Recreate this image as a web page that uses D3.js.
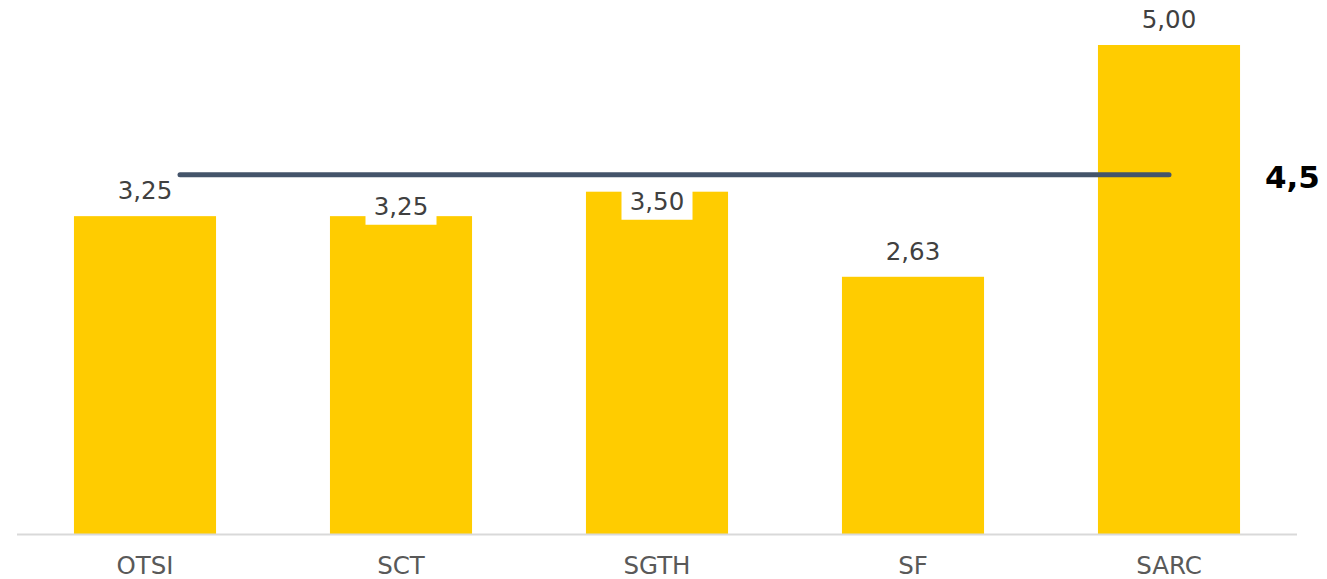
<!DOCTYPE html>
<html>
<head>
    <meta charset="utf-8">
    <script src="https://d3js.org/d3.v7.min.js"></script>
    <style>
        body { margin: 0; background: #fff; }
        text { font-family: "DejaVu Sans", Verdana, sans-serif; }
    </style>
</head>
<body>
    <div id="chart"></div>
    <script>
        // Data
        const categories = ['OTSI', 'SCT', 'SGTH', 'SF', 'SARC'];
        const values = [3.25, 3.25, 3.50, 2.63, 5.00];
        const targetValue = 4.5;
        const targetLabel = '4,5';

        const width = 1327;
        const height = 579;

        const svg = d3.select('#chart').append('svg')
                      .attr('width', width)
                      .attr('height', height);

        // Scales
        const xScale = d3.scaleBand()
                         .domain(categories)
                         .range([17, 1297])
                         .paddingInner(0.445)
                         .paddingOuter(0.2225);

        const yScale = d3.scaleLinear()
                         .domain([0, 5])
                         .range([534, 45]);

        // secondary axis for the target line
        const y2Scale = d3.scaleLinear()
                          .domain([0, 6])
                          .range([534, 55]);

        const fmt = (v) => d3.format('.2f')(v).replace('.', ',');

        // Bars
        svg.selectAll('rect.bar')
           .data(categories)
           .join('rect')
           .attr('class', 'bar')
           .attr('x', (d) => xScale(d))
           .attr('y', (d, i) => yScale(values[i]))
           .attr('width', xScale.bandwidth())
           .attr('height', (d, i) => yScale(0) - yScale(values[i]))
           .style('fill', '#ffcc00');

        // Axis baseline
        svg.append('line')
           .attr('x1', 17)
           .attr('x2', 1297)
           .attr('y1', yScale(0) + 0.5)
           .attr('y2', yScale(0) + 0.5)
           .attr('stroke', '#d9d9d9')
           .attr('stroke-width', 2);

        // Category labels
        const xAxis = d3.axisBottom(xScale).tickSize(0).tickPadding(0);
        const gx = svg.append('g')
                      .attr('transform', `translate(0, ${yScale(0)})`)
                      .call(xAxis);
        gx.select('.domain').remove();
        gx.selectAll('text')
          .attr('dy', null)
          .attr('y', 39.5)
          .style('font-family', '"DejaVu Sans", Verdana, sans-serif')
          .style('font-size', '24.5px')
          .style('fill', '#595959');

        // Target line
        const centre = (c) => xScale(c) + xScale.bandwidth() / 2;
        const targetY = y2Scale(targetValue);
        svg.append('line')
           .attr('x1', centre(categories[0]) + 35)
           .attr('x2', centre(categories[categories.length - 1]))
           .attr('y1', targetY)
           .attr('y2', targetY)
           .attr('stroke', '#44546a')
           .attr('stroke-width', 5)
           .attr('stroke-linecap', 'round');

        svg.append('text')
           .attr('x', 1265)
           .attr('y', 188)
           .style('font-size', '31px')
           .style('font-weight', 'bold')
           .style('fill', '#000')
           .text(targetLabel);

        // Value labels (two are pushed below the target line, on a white box)
        const pushedDown = { SCT: 40, SGTH: 35 };
        categories.forEach((c, i) => {
            const cx = centre(c);
            let by = yScale(values[i]) - 17;
            if (pushedDown[c] !== undefined) {
                by = targetY + pushedDown[c];
                svg.append('rect')
                   .attr('x', cx - 35.5)
                   .attr('y', by - 24)
                   .attr('width', 71)
                   .attr('height', 34)
                   .style('fill', '#fff');
            }
            svg.append('text')
               .attr('x', cx)
               .attr('y', by)
               .attr('text-anchor', 'middle')
               .style('font-size', '24.5px')
               .style('fill', '#404040')
               .text(fmt(values[i]));
        });
    </script>
</body>
</html>
